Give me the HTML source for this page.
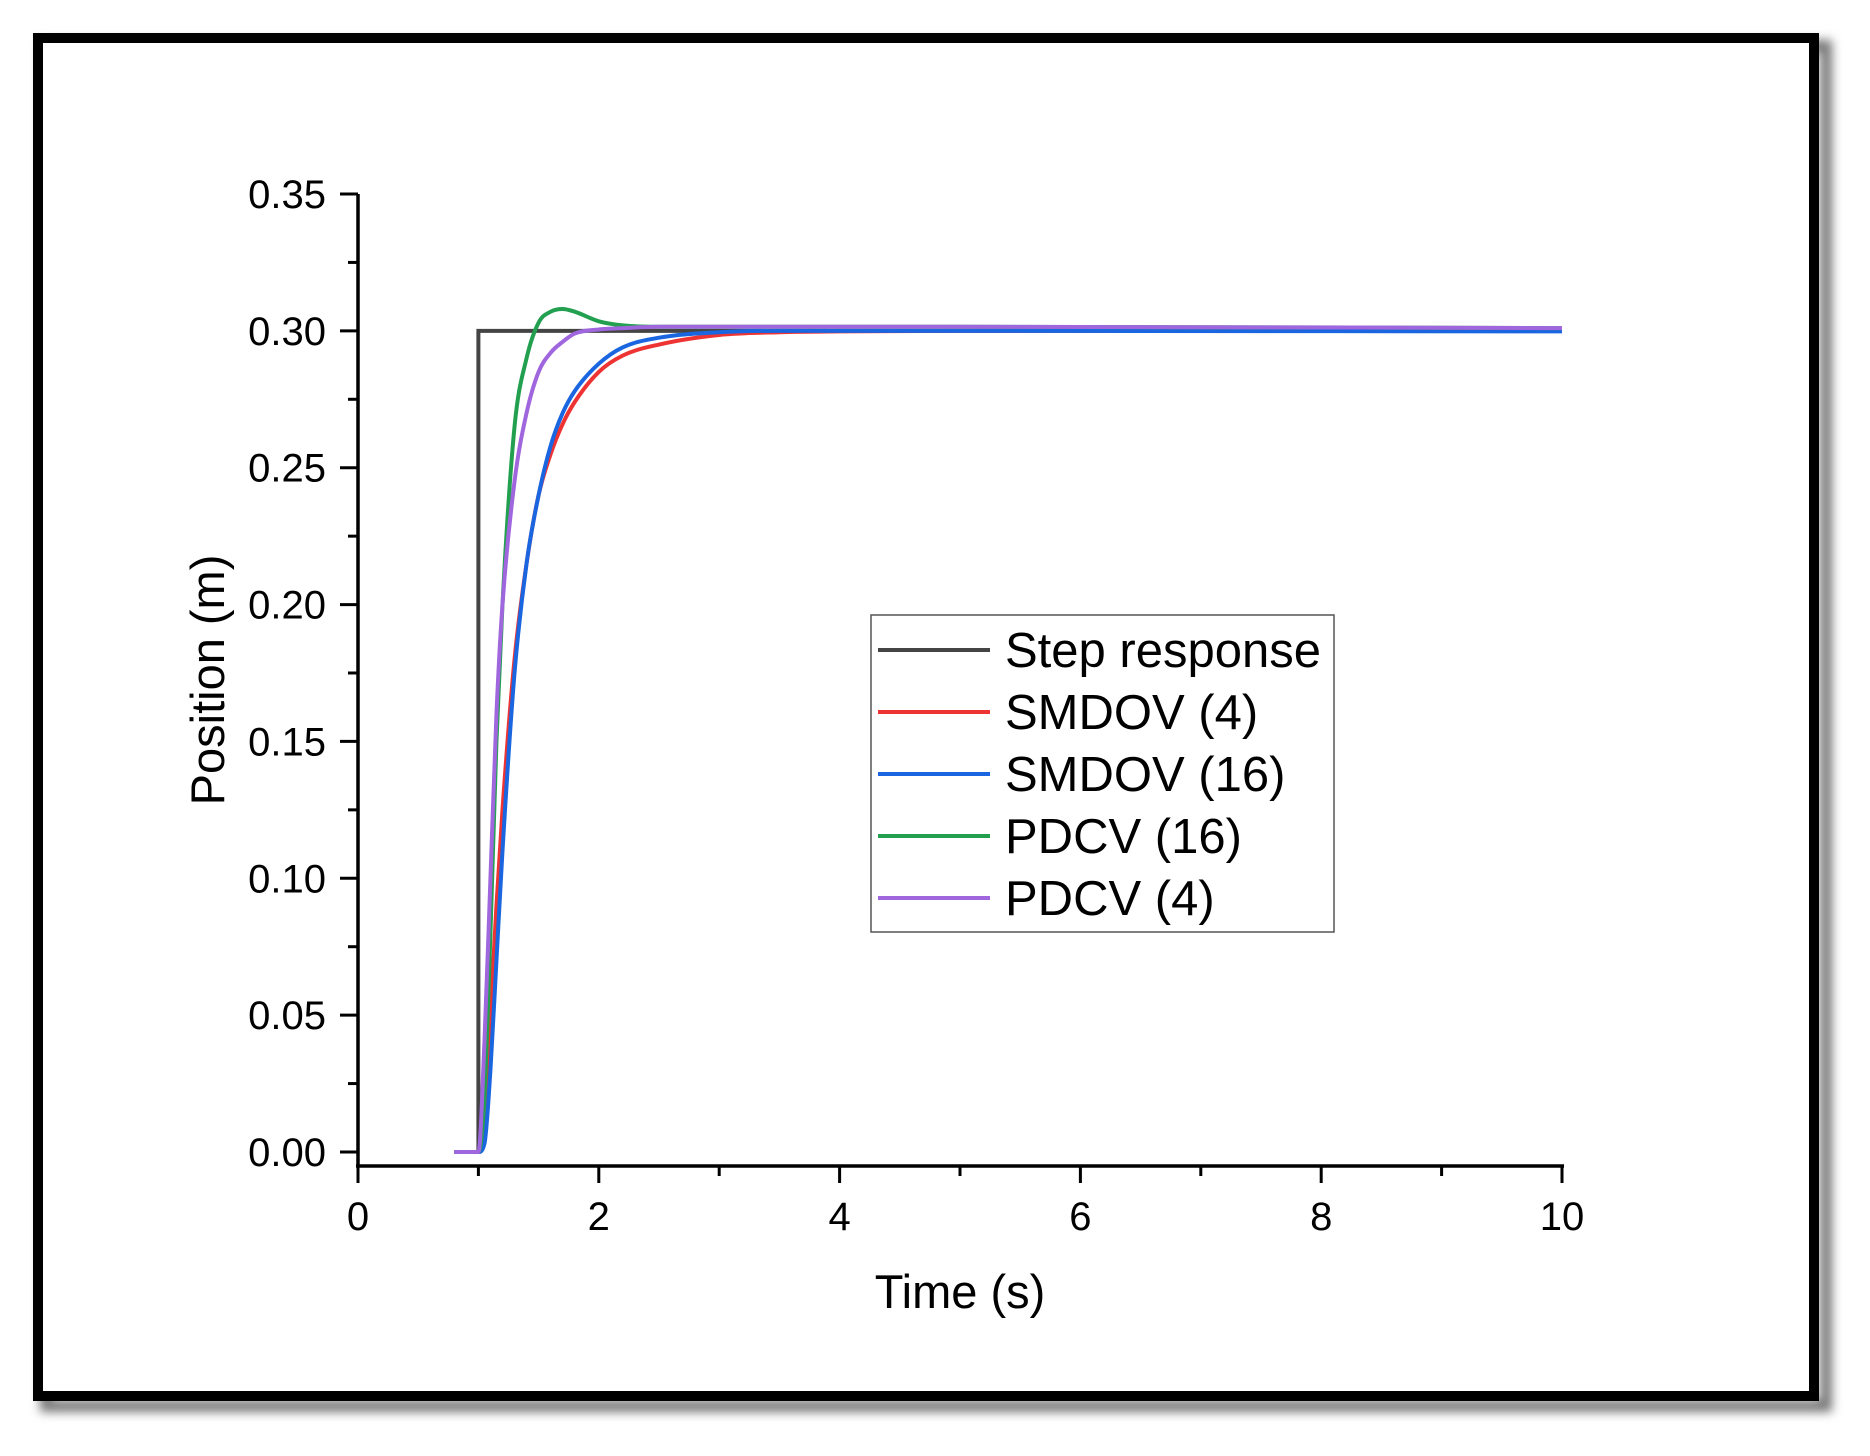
<!DOCTYPE html>
<html><head><meta charset="utf-8"><style>
html,body{margin:0;padding:0;background:#fff;}
svg{display:block;font-family:"Liberation Sans",Arial,sans-serif;}
</style></head><body>
<svg id="chart" width="1870" height="1456" viewBox="0 0 1870 1456">
  <defs>
    <filter id="blur" x="-5%" y="-5%" width="110%" height="110%"><feGaussianBlur stdDeviation="5"/></filter>
  </defs>
  <rect x="0" y="0" width="1870" height="1456" fill="#fff"/>
  <rect x="46" y="46" width="1780" height="1360" fill="none" stroke="#777" stroke-width="12" filter="url(#blur)"/>
  <rect x="38" y="38" width="1776" height="1358" fill="#fff" stroke="#000" stroke-width="10"/>
  <g id="axes"></g>
  <g id="series"></g>
  <g id="legend">
    <rect x="871" y="615" width="463" height="317" fill="#fff" stroke="#555" stroke-width="1.5"/>
  </g>
  <text x="960" y="1308" font-size="47" text-anchor="middle" fill="#000">Time (s)</text>
  <text x="0" y="0" font-size="47" text-anchor="middle" fill="#000" transform="translate(224,680) rotate(-90)">Position (m)</text>
</svg>
<script>
const xTicks = [0, 2, 4, 6, 8, 10];
const yTicks = [0.00, 0.05, 0.10, 0.15, 0.20, 0.25, 0.30, 0.35];
const yTickLabels = ["0.00","0.05","0.10","0.15","0.20","0.25","0.30","0.35"];
const seriesNames = ["Step response","SMDOV (4)","SMDOV (16)","PDCV (16)","PDCV (4)"];
const seriesColors = ["#444444","#ee3333","#1a66e0","#22a050","#a066dd"];
const timeS = [0.8,1,1.05,1.1,1.15,1.2,1.3,1.4,1.5,1.6,1.7,1.8,2,2.2,2.5,3,3.5,4,5,10];
const stepT = [0.8,1,1,10];
const stepV = [0,0,0.3,0.3];
const smdov4 = [0,0,0.01,0.05,0.09,0.125,0.18,0.215,0.24,0.255,0.266,0.274,0.285,0.291,0.295,0.2985,0.2995,0.2998,0.3,0.3];
const smdov16 = [0,0,0.003,0.03,0.07,0.11,0.175,0.215,0.24,0.258,0.27,0.278,0.288,0.294,0.2975,0.2995,0.3,0.3,0.3,0.2998];
const pdcv16 = [0,0,0.02,0.08,0.15,0.2,0.265,0.29,0.303,0.307,0.308,0.307,0.3035,0.302,0.3015,0.3015,0.3015,0.3015,0.3015,0.301];
const pdcv4 = [0,0,0.04,0.1,0.16,0.2,0.245,0.27,0.285,0.292,0.296,0.299,0.3005,0.301,0.3015,0.3015,0.3015,0.3015,0.3015,0.301];

const NS = "http://www.w3.org/2000/svg";
const X0 = 358, X1 = 1562, Y0 = 1152, Y35 = 194, XAXISY = 1166;
function sx(t){ return X0 + (t/10)*(X1-X0); }
function sy(v){ return Y0 - (v/0.35)*(Y0-Y35); }
function mk(tag, attrs, parent){ const e=document.createElementNS(NS,tag); for(const k in attrs) e.setAttribute(k,attrs[k]); parent.appendChild(e); return e; }

const axes = document.getElementById('axes');
const yl = mk('line',{x1:X0,y1:Y35,x2:X0,y2:XAXISY,stroke:'#000','stroke-width':3.5},axes);


const xl = mk('line',{x1:X0-2,y1:XAXISY,x2:X1+2,y2:XAXISY,stroke:'#000','stroke-width':3.5},axes);


for(let i=0;i<=10;i++){
  const major = i%2===0;
  const tk = mk('line',{x1:sx(i),y1:XAXISY,x2:sx(i),y2:XAXISY+(major?17:10),stroke:'#000','stroke-width':3},axes);
  
  
}
xTicks.forEach(t=>{
  const tx = mk('text',{x:sx(t),y:1230,'font-size':40,'text-anchor':'middle',fill:'#000'},axes);
  tx.textContent = String(t);
  
  
});
for(let i=0;i<=14;i++){
  const v=i*0.025, major=i%2===0;
  const tk = mk('line',{x1:X0,y1:sy(v),x2:X0-(major?18:10),y2:sy(v),stroke:'#000','stroke-width':3},axes);
  
  
}
yTicks.forEach((v,i)=>{
  const tx = mk('text',{x:326,y:sy(v)+14,'font-size':40,'text-anchor':'end',fill:'#000'},axes);
  tx.textContent = yTickLabels[i];
  
  
});

// monotone cubic (Fritsch-Carlson) path, no overshoot
function smoothPath(ts, vs){
  const x = ts.map(sx), y = vs.map(sy), n = x.length;
  const d = [], m = new Array(n);
  for(let i=0;i<n-1;i++) d.push((y[i+1]-y[i])/(x[i+1]-x[i]));
  m[0]=d[0]; m[n-1]=d[n-2];
  for(let i=1;i<n-1;i++){
    if(d[i-1]*d[i]<=0) m[i]=0;
    else { m[i]=(d[i-1]+d[i])/2; }
  }
  for(let i=0;i<n-1;i++){
    if(d[i]===0){ m[i]=0; m[i+1]=0; continue; }
    const a=m[i]/d[i], b=m[i+1]/d[i], s=a*a+b*b;
    if(s>9){ const t=3/Math.sqrt(s); m[i]=t*a*d[i]; m[i+1]=t*b*d[i]; }
  }
  let p = 'M'+x[0]+','+y[0];
  for(let i=0;i<n-1;i++){
    const h=(x[i+1]-x[i])/3;
    p += ' C'+(x[i]+h)+','+(y[i]+m[i]*h)+' '+(x[i+1]-h)+','+(y[i+1]-m[i+1]*h)+' '+x[i+1]+','+y[i+1];
  }
  return p;
}
const series = document.getElementById('series');
const stepPts = stepT.map((t,i)=>sx(t)+','+sy(stepV[i])).join(' ');
const stepLine = mk('polyline',{points:stepPts,fill:'none',stroke:seriesColors[0],'stroke-width':4},series);


const curves = [[smdov4,1,'smdov-4-line'],[smdov16,2,'smdov-16-line'],[pdcv16,3,'pdcv-16-line'],[pdcv4,4,'pdcv-4-line']];
curves.forEach(c=>{
  const pth = mk('path',{d:smoothPath(timeS,c[0]),fill:'none',stroke:seriesColors[c[1]],'stroke-width':4,'stroke-linejoin':'round'},series);
  
  
});

const legend = document.getElementById('legend');
seriesNames.forEach((n,i)=>{
  const y = 650 + i*62;
  const ln = mk('line',{x1:878,y1:y,x2:990,y2:y,stroke:seriesColors[i],'stroke-width':4},legend);
  
  
  const tx = mk('text',{x:1005,y:y+17,'font-size':49,fill:'#000'},legend);
  tx.textContent = n;
  
  
});
</script>
</body></html>
